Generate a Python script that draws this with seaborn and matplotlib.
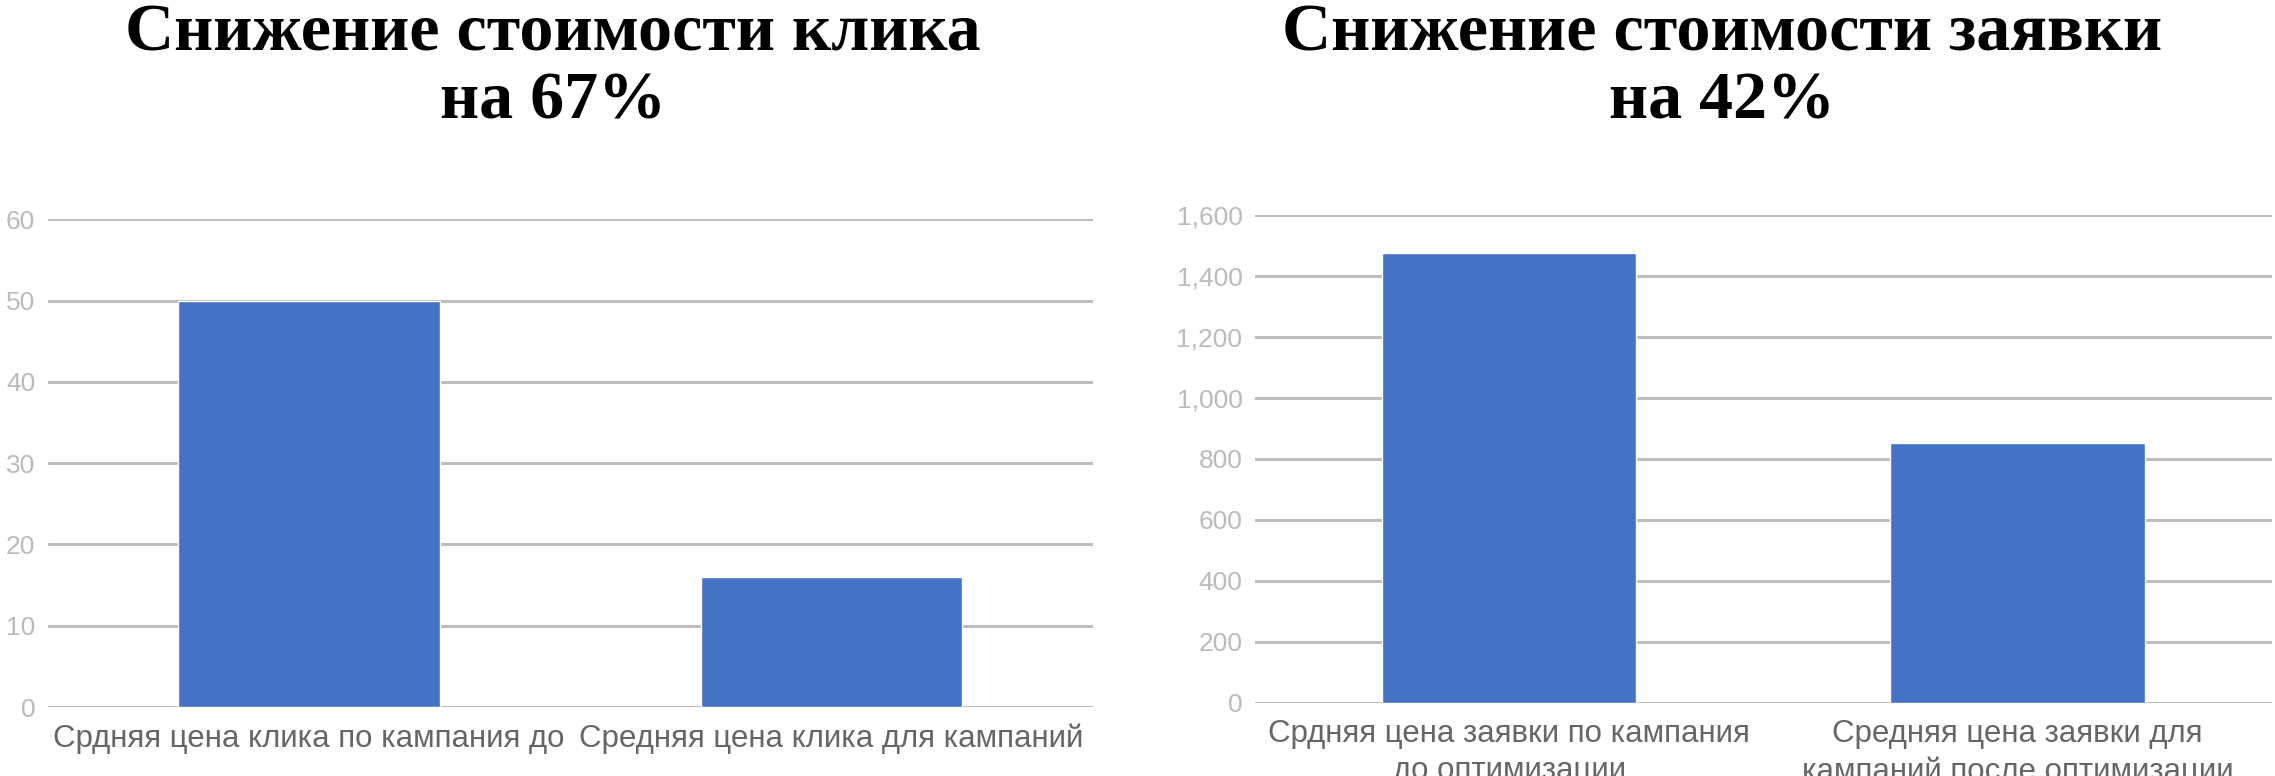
import pandas as pd
import matplotlib
matplotlib.use("Agg")
import matplotlib.pyplot as plt
import seaborn as sns

# data
click_labels = ["Срдняя цена клика по кампания до", "Средняя цена клика для кампаний"]
click_values = [50, 16]
click_ticks = [0, 10, 20, 30, 40, 50, 60]

lead_labels = ["Срдняя цена заявки по кампания\nдо оптимизации",
               "Средняя цена заявки для\nкампаний после оптимизации"]
lead_values = [1475, 850]
lead_ticks = [0, 200, 400, 600, 800, 1000, 1200, 1400, 1600]

titles = ["Снижение стоимости клика\nна 67%", "Снижение стоимости заявки\nна 42%"]

BLUE = "#4472C4"
GRID = "#bdbdbd"


def draw_panel(ax, labels, values, ticks, fmt):
    df = pd.DataFrame({"label": labels, "value": values})
    sns.barplot(data=df, x="label", y="value", color=BLUE, saturation=1,
                width=0.5, ax=ax)
    ax.set_xlim(-0.5, len(labels) - 0.5)
    ax.set_ylim(ticks[0], ticks[-1])
    ax.set_yticks(ticks)
    ax.set_yticklabels([fmt(t) for t in ticks])
    ax.set_xlabel("")
    ax.set_ylabel("")
    for t in ticks:
        ax.axhline(t, color=GRID, lw=2.2, zorder=0)
    ax.grid(False)
    for s in ax.spines.values():
        s.set_visible(False)
    ax.tick_params(axis="y", length=0, pad=9, labelsize=19, labelcolor="#bbbbbb")
    ax.tick_params(axis="x", length=0, pad=12, labelsize=22.5, labelcolor="#666666")
    for lbl in ax.get_xticklabels():
        lbl.set_linespacing(1.3)
        lbl.set_fontfamily("Liberation Sans")
    for lbl in ax.get_yticklabels():
        lbl.set_fontfamily("Liberation Sans")


def main():
    sns.set_style("white")
    plt.rcParams["font.family"] = ["Liberation Sans", "DejaVu Sans"]

    fig = plt.figure(figsize=(22.75, 7.76), dpi=100)
    ax1 = fig.add_axes([0.02097, 0.0889, 0.4593, 0.6285])
    ax2 = fig.add_axes([0.5516, 0.0945, 0.4470, 0.6289])

    draw_panel(ax1, click_labels, click_values, click_ticks, lambda t: f"{t}")
    draw_panel(ax2, lead_labels, lead_values, lead_ticks, lambda t: f"{t:,}")

    for x, title in zip([553 / 2275, 1722 / 2275], titles):
        fig.text(x, 0.995, title, ha="center", va="top", fontsize=49,
                 fontweight="bold", family="Liberation Serif",
                 linespacing=1.15, color="black")

    fig.savefig("out.png", dpi=100, facecolor="white")
    plt.close(fig)


if __name__ == "__main__":
    main()
